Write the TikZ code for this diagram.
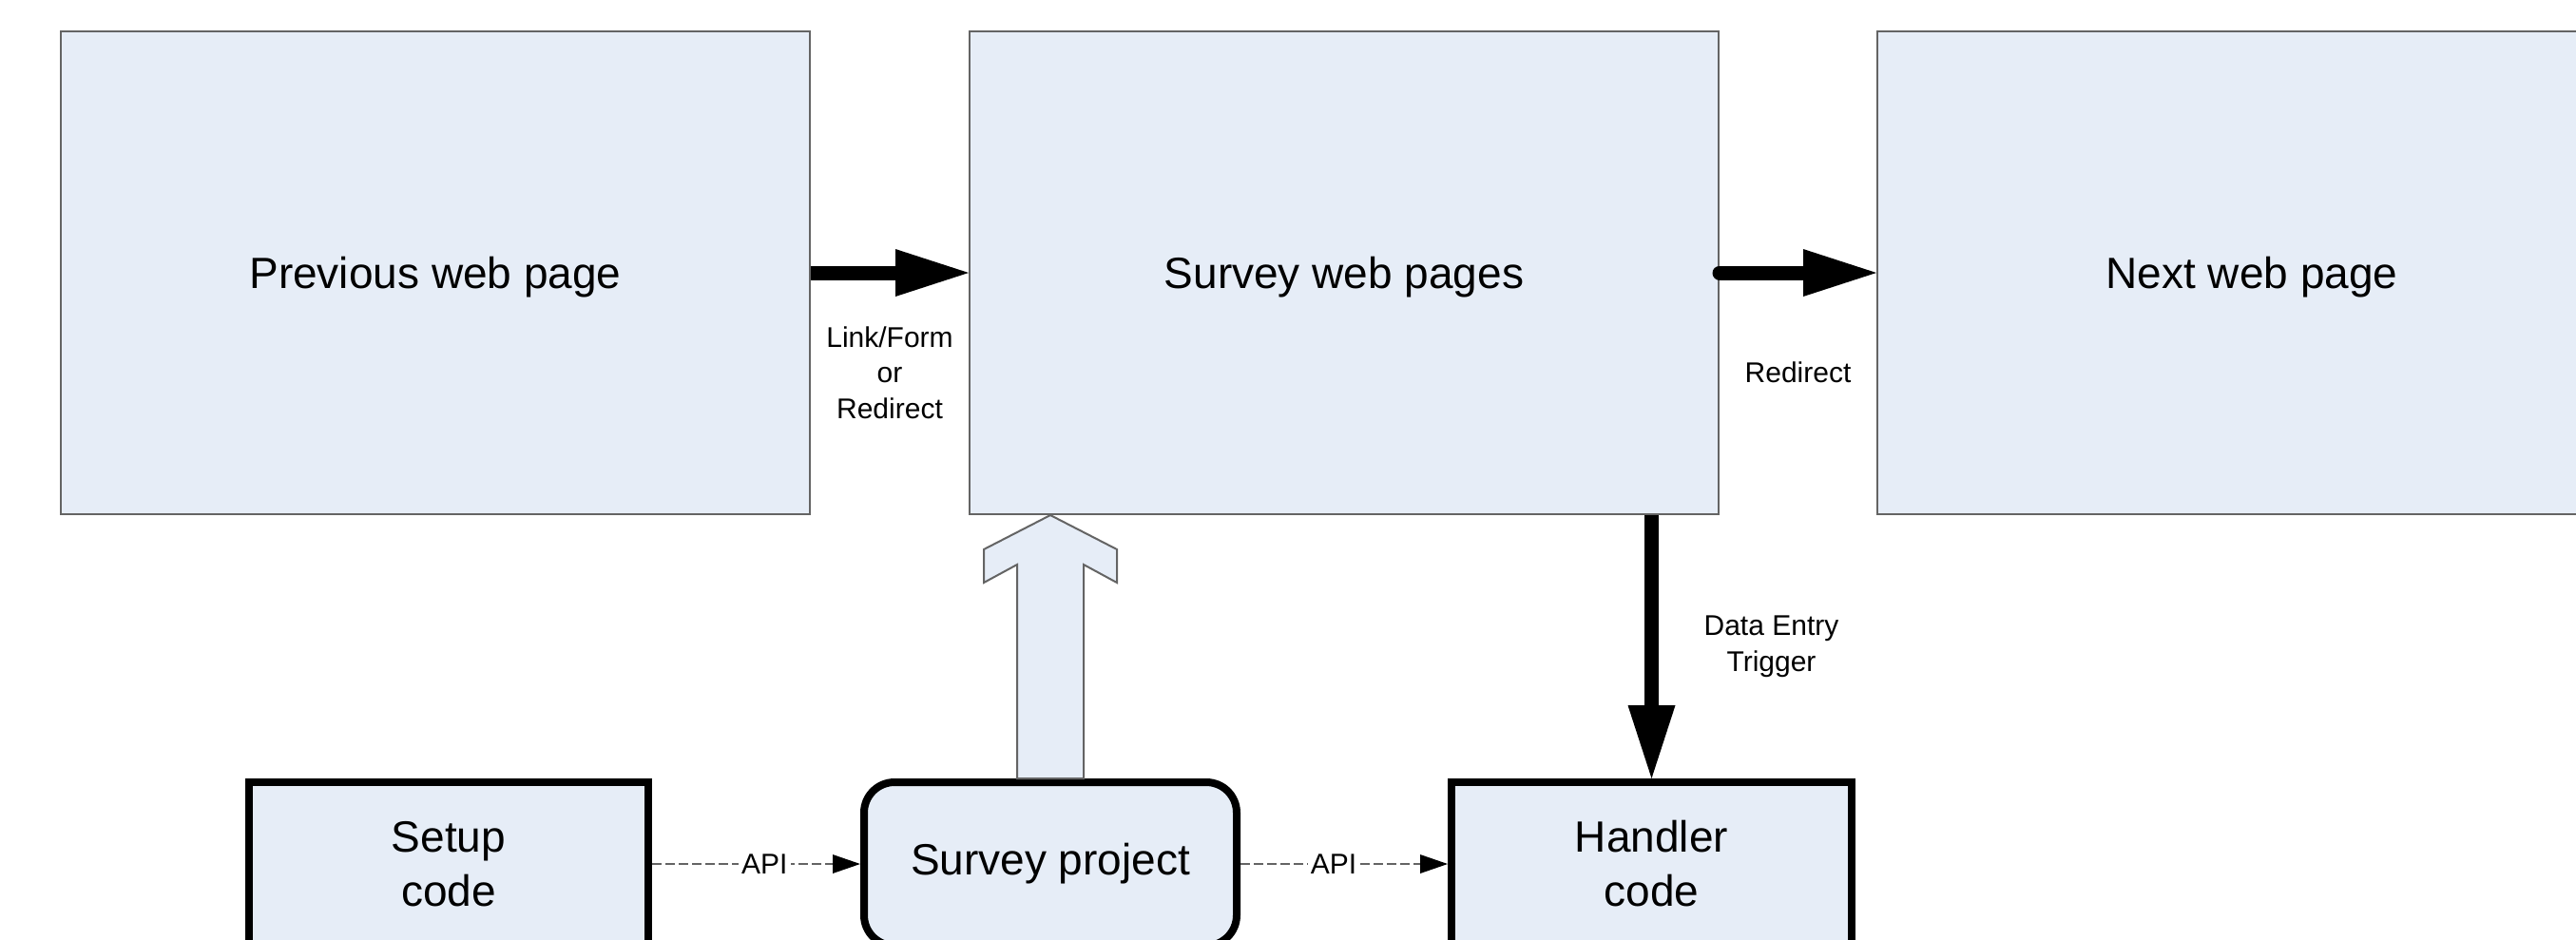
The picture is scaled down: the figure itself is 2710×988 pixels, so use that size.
\documentclass[tikz,border=0pt]{standalone}
\usepackage{fontspec}
\setmainfont{Liberation Sans}
\usetikzlibrary{arrows.meta,calc}
\definecolor{boxfill}{HTML}{E6EDF7}
\definecolor{boxline}{HTML}{646464}
\begin{document}
\begin{tikzpicture}[x=0.25pt, y=-0.25pt,
  page/.style={draw=boxline, line width=0.5pt, fill=boxfill, minimum width=197pt,
    minimum height=127pt, inner sep=0pt, text depth=0pt, font=\fontsize{11.5}{14.25}\selectfont},
  codebox/.style={draw=black, line width=2pt, fill=boxfill, minimum height=43pt,
    inner sep=0pt, align=center, font=\fontsize{11.5}{14.25}\selectfont},
  bigarrow/.style={line width=3.75pt, -{Triangle[length=19.25pt, width=12.5pt, line width=0pt]}},
  apiarrow/.style={draw=boxline, line width=0.4pt, dash pattern=on 2.4pt off 1.1pt,
    -{Triangle[length=7.25pt, width=5pt, color=black, line width=0pt]}},
  smalllabel/.style={font=\fontsize{7.5}{9.375}\selectfont, align=center},
  apilabel/.style={smalllabel, fill=white, inner sep=0.8pt}
]
\useasboundingbox (0,0) rectangle (2710,988);
\clip (0,0) rectangle (2710,988);

% top pages
\node[page] (prev)   at (458,287)  {Previous web page};
\node[page] (survey) at (1414,287) {Survey web pages};
\node[page] (next)   at (2369,287) {Next web page};

% bottom boxes
\node[codebox, minimum width=105pt] (setup) at (472,909) {Setup\\code};
\node[codebox, minimum width=98pt, rounded corners=8pt] (project) at (1105,909) {Survey project};
\node[codebox, minimum width=105.25pt] (handler) at (1737.5,909) {Handler\\code};

% block arrow
\coordinate (tip) at (project.north |- survey.south);
\draw[boxline, line width=0.5pt, fill=boxfill]
  (tip) -- ($(tip)+(70,36)$) -- ($(tip)+(70,71)$) -- ($(tip)+(35,52)$)
  -- ($(project.north)+(35,0)$) -- ($(project.north)+(-35,0)$)
  -- ($(tip)+(-35,52)$) -- ($(tip)+(-70,71)$) -- ($(tip)+(-70,36)$) -- cycle;

% flow arrows
\draw[bigarrow] (prev.east) -- node[smalllabel, midway, yshift=-26.25pt]
  {Link/Form\\or\\Redirect} (survey.west);
\draw[bigarrow, line cap=round] (survey.east) -- node[smalllabel, midway, yshift=-26.25pt]
  {Redirect} (next.west);
\coordinate (trig) at (survey.south -| handler.north);
\draw[bigarrow] (trig) -- node[smalllabel, midway, xshift=31.5pt]
  {Data Entry\\Trigger} (handler.north);

% API arrows
\draw[apiarrow] (setup.east) -- node[apilabel, pos=0.54] {API} (project.west);
\draw[apiarrow] (project.east) -- node[apilabel, pos=0.45] {API} (handler.west);
\end{tikzpicture}
\end{document}
